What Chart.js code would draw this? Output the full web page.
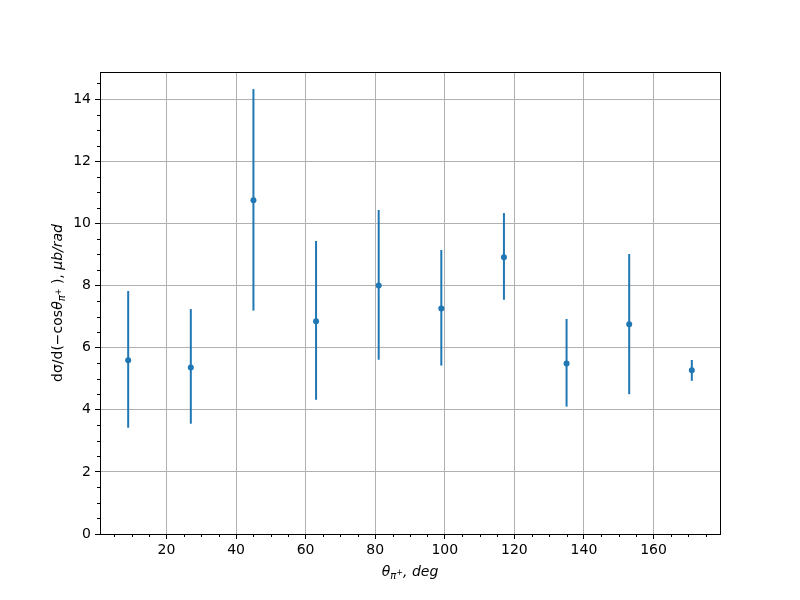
<!DOCTYPE html>
<html>
<head>
<meta charset="utf-8">
<script src="https://cdn.jsdelivr.net/npm/chart.js@4.4.0/dist/chart.umd.min.js"></script>
<style>
  html, body { margin: 0; padding: 0; background: #fff; }
  #wrap { width: 800px; height: 600px; }
</style>
</head>
<body>
<div id="wrap"><canvas id="graph" width="800" height="600"></canvas></div>
<script>
// angles of the pion, deg
const angles = [9, 27, 45, 63, 81, 99, 117, 135, 153, 171];
// cross section values and error bar ends
const xsec = [5.59, 5.36, 10.74, 6.85, 8.00, 7.26, 8.91, 5.49, 6.75, 5.27];
const xsecLow = [3.42, 3.55, 7.19, 4.32, 5.61, 5.42, 7.54, 4.10, 4.50, 4.93];
const xsecHigh = [7.82, 7.24, 14.32, 9.43, 10.43, 9.14, 10.33, 6.92, 9.01, 5.60];

const xTicks = [20, 40, 60, 80, 100, 120, 140, 160];
const yTicks = [0, 2, 4, 6, 8, 10, 12, 14];

const blue = '#1f77b4';
const fontFamily = '"DejaVu Sans", sans-serif';

// label pieces: text, italic, level (0 normal, 1 subscript, 2 sup of subscript)
const yLabel = [
    ['dσ/d(−cos', false, 0],
    ['θ', true, 0],
    ['π', true, 1],
    ['+', false, 2],
    ' ),', [' μb/rad', true, 0]
];
const xLabel = [
    ['θ', true, 0],
    ['π', true, 1],
    ['+', false, 2],
    [', deg', true, 0]
];

function pieceFont(p) {
    var size = p[2] == 0 ? 14 : (p[2] == 1 ? 10 : 8);
    return (p[1] ? 'italic ' : '') + size + 'px ' + fontFamily;
}

function drawLabel(ctx, pieces, cx, cy, rotate) {
    pieces = pieces.map(p => typeof p == 'string' ? [p, false, 0] : p);
    ctx.save();
    ctx.translate(cx, cy);
    if (rotate) ctx.rotate(-Math.PI / 2);
    var total = 0;
    pieces.forEach(p => {
        ctx.font = pieceFont(p);
        total += ctx.measureText(p[0]).width;
    });
    var x = -total / 2;
    ctx.fillStyle = '#000';
    ctx.textBaseline = 'alphabetic';
    pieces.forEach(p => {
        ctx.font = pieceFont(p);
        var dy = p[2] == 1 ? 3 : (p[2] == 2 ? -1 : 0);
        ctx.fillText(p[0], x, 5 + dy);
        x += ctx.measureText(p[0]).width;
    });
    ctx.restore();
}

const errorBars = {
    id: 'errorBars',
    beforeDatasetsDraw(chart) {
        const ctx = chart.ctx;
        const x = chart.scales.x, y = chart.scales.y;
        ctx.save();
        ctx.strokeStyle = blue;
        ctx.lineWidth = 2;
        for (let i = 0; i < angles.length; i++) {
            const px = x.getPixelForValue(angles[i]);
            ctx.beginPath();
            ctx.moveTo(px, y.getPixelForValue(xsecLow[i]));
            ctx.lineTo(px, y.getPixelForValue(xsecHigh[i]));
            ctx.stroke();
        }
        ctx.restore();
    }
};

const frame = {
    id: 'frame',
    afterDraw(chart) {
        const ctx = chart.ctx;
        const a = chart.chartArea;
        const x = chart.scales.x, y = chart.scales.y;
        ctx.save();
        // minor ticks
        ctx.strokeStyle = '#000';
        ctx.lineWidth = 1;
        ctx.beginPath();
        for (let v = 5; v < x.max; v += 5) {
            if (v % 20 == 0 || v < x.min) continue;
            const px = Math.round(x.getPixelForValue(v)) + 0.5;
            ctx.moveTo(px, a.bottom);
            ctx.lineTo(px, a.bottom + 3);
        }
        for (let v = 0.5; v < y.max; v += 0.5) {
            if (v % 2 == 0) continue;
            const py = Math.round(y.getPixelForValue(v)) + 0.5;
            ctx.moveTo(a.left, py);
            ctx.lineTo(a.left - 3, py);
        }
        ctx.stroke();
        // spines
        ctx.lineWidth = 1;
        ctx.strokeRect(Math.round(a.left) + 0.5, Math.round(a.top) + 0.5,
            Math.round(a.right - a.left), Math.round(a.bottom - a.top));
        drawLabel(ctx, yLabel, 57, (a.top + a.bottom) / 2, true);
        drawLabel(ctx, xLabel, (a.left + a.right) / 2, 571, false);
        ctx.restore();
    }
};

const config = {
    type: 'scatter',
    data: {
        datasets: [{
            data: angles.map((a, i) => ({ x: a, y: xsec[i] })),
            backgroundColor: blue,
            borderColor: blue,
            pointRadius: 3,
            pointBorderWidth: 0
        }]
    },
    options: {
        responsive: false,
        animation: false,
        layout: { padding: { left: 0, top: 72, right: 80, bottom: 0 } },
        plugins: { legend: { display: false }, tooltip: { enabled: false } },
        scales: {
            x: {
                type: 'linear',
                min: 0.9,
                max: 179.1,
                afterFit: s => { s.height = 66; },
                afterBuildTicks: s => { s.ticks = xTicks.map(v => ({ value: v })); },
                grid: { color: '#b0b0b0', lineWidth: 1, tickColor: '#000', tickLength: 5 },
                border: { display: false },
                ticks: { color: '#000', font: { family: fontFamily, size: 14 }, padding: 3, maxRotation: 0 }
            },
            y: {
                type: 'linear',
                min: 0,
                max: 14.87,
                afterFit: s => { s.width = 100; },
                afterBuildTicks: s => { s.ticks = yTicks.map(v => ({ value: v })); },
                grid: { color: '#b0b0b0', lineWidth: 1, tickColor: '#000', tickLength: 5 },
                border: { display: false },
                ticks: { color: '#000', font: { family: fontFamily, size: 14 }, padding: 4 }
            }
        }
    },
    plugins: [errorBars, frame]
};

new Chart(document.getElementById('graph'), config);
</script>
</body>
</html>
